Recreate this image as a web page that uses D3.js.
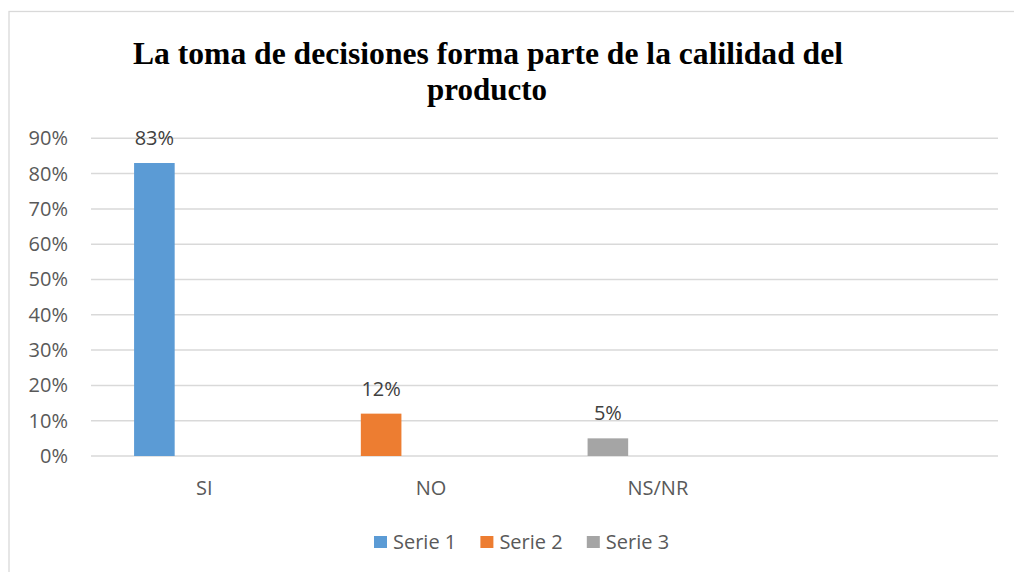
<!DOCTYPE html>
<html>
<head>
<meta charset="utf-8">
<script src="https://cdn.jsdelivr.net/npm/d3@7"></script>
<style>
  body { margin: 0; background: #fff; }
</style>
</head>
<body>
<div class="chart"></div>
<script>
// chart data
const categories = ["SI", "NO", "NS/NR", ""];
const seriesNames = ["Serie 1", "Serie 2", "Serie 3"];
const seriesColors = ["#5b9bd5", "#ed7d31", "#a5a5a5"];
// one value per category, per series (null = no bar)
const serie1 = [0.83, null, null, null];
const serie2 = [null, 0.12, null, null];
const serie3 = [null, null, 0.05, null];
const yTicks = [0, 0.1, 0.2, 0.3, 0.4, 0.5, 0.6, 0.7, 0.8, 0.9];
const titleLines = ["La toma de decisiones forma parte de la calilidad del", "producto"];

const width = 1014, height = 572;
const margin = { top: 138.3, right: 16, bottom: 116, left: 91 };

const svg = d3.select(".chart")
  .append("svg")
  .attr("width", width)
  .attr("height", height);

// outer frame
svg.append("rect")
  .attr("x", 9)
  .attr("y", 11.5)
  .attr("width", width)
  .attr("height", height)
  .attr("fill", "none")
  .attr("stroke", "#d9d9d9")
  .attr("stroke-width", 1.3);

// title
const title = svg.append("g")
  .style("font-family", "'Liberation Serif', 'Times New Roman', serif")
  .style("font-weight", "bold")
  .style("font-size", "32px")
  .attr("fill", "#000");

title.append("text")
  .attr("x", 488)
  .attr("y", 63.5)
  .attr("text-anchor", "middle")
  .attr("textLength", 710)
  .attr("lengthAdjust", "spacingAndGlyphs")
  .text(titleLines[0]);

title.append("text")
  .attr("x", 487)
  .attr("y", 99.5)
  .attr("text-anchor", "middle")
  .attr("textLength", 120)
  .attr("lengthAdjust", "spacingAndGlyphs")
  .text(titleLines[1]);

const x = d3.scaleBand()
  .domain(categories)
  .range([margin.left, width - margin.right])
  .padding(0);

const y = d3.scaleLinear()
  .domain([0, 0.9])
  .range([456, margin.top]);

// gridlines
svg.append("g")
  .selectAll("line")
  .data(yTicks)
  .enter()
  .append("line")
  .attr("x1", margin.left)
  .attr("x2", width - margin.right)
  .attr("y1", (d) => y(d))
  .attr("y2", (d) => y(d))
  .attr("stroke", "#d9d9d9")
  .attr("stroke-width", 1.5);

// y axis labels
const yAxis = svg.append("g")
  .attr("transform", "translate(" + margin.left + ",0)")
  .call(d3.axisLeft(y).tickValues(yTicks).tickFormat(d3.format(".0%")).tickSize(0).tickPadding(23));
yAxis.select(".domain").remove();
yAxis.selectAll("text")
  .style("font-family", "'Open Sans', sans-serif")
  .style("font-size", "20px")
  .attr("fill", "#595959");

// x axis labels
const xAxis = svg.append("g")
  .attr("transform", "translate(0,456)")
  .call(d3.axisBottom(x).tickSize(0).tickPadding(0));
xAxis.select(".domain").remove();
xAxis.selectAll("text")
  .attr("dy", "0")
  .attr("y", 39)
  .style("font-family", "'Open Sans', sans-serif")
  .style("font-size", "20px")
  .attr("fill", "#595959");

// bars
const allSeries = [serie1, serie2, serie3];
const barW = x.bandwidth() * 0.179;
const barOff = x.bandwidth() * 0.19;

const barData = [];
allSeries.forEach((s, si) => {
  s.forEach((v, ci) => {
    if (v !== null) barData.push({ cat: categories[ci], value: v, series: si });
  });
});

svg.append("g")
  .selectAll("rect")
  .data(barData)
  .enter()
  .append("rect")
  .attr("x", (d) => x(d.cat) + barOff)
  .attr("y", (d) => y(d.value))
  .attr("width", barW)
  .attr("height", (d) => y(0) - y(d.value))
  .attr("fill", (d) => seriesColors[d.series]);

// data labels
svg.append("g")
  .selectAll("text")
  .data(barData)
  .enter()
  .append("text")
  .attr("x", (d) => x(d.cat) + barOff + barW / 2)
  .attr("y", (d) => y(d.value) - 18)
  .attr("text-anchor", "middle")
  .style("font-family", "'Open Sans', sans-serif")
  .style("font-size", "20px")
  .attr("fill", "#404040")
  .text((d) => d3.format(".0%")(d.value));

// legend
const legend = svg.append("g")
  .selectAll("g")
  .data(seriesNames)
  .enter()
  .append("g")
  .attr("transform", (d, i) => "translate(" + (374 + i * 106.4) + ",536)");

legend.append("rect")
  .attr("width", 13)
  .attr("height", 12)
  .attr("fill", (d, i) => seriesColors[i]);

legend.append("text")
  .attr("x", 19)
  .attr("y", 12.5)
  .style("font-family", "'Open Sans', sans-serif")
  .style("font-size", "20px")
  .attr("fill", "#595959")
  .text((d) => d);
</script>
</body>
</html>
